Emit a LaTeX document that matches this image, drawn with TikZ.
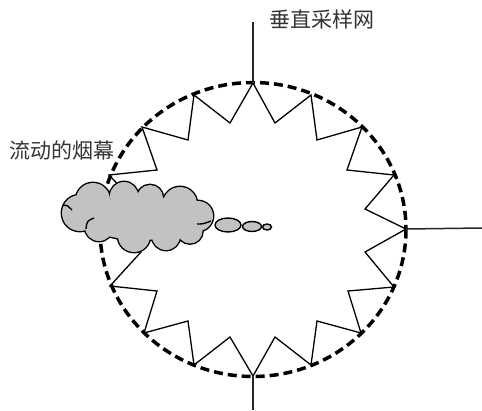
\documentclass[tikz,border=0pt]{standalone}
\usepackage{fontspec}
\newfontfamily\cjk{Noto Sans CJK SC}
\begin{document}
\begin{tikzpicture}[x=1pt,y=-1pt,
  rim/.style={line width=3.5pt,dash pattern=on 9pt off 5pt},
  zigzag/.style={line width=1.3pt,line join=miter},
  axis/.style={line width=1.5pt,black!85},
  puff/.style={fill=black!24},
  puffline/.style={line width=1.4pt},
  label/.style={font=\cjk\fontsize{21}{25}\selectfont,text=black!80,inner sep=0pt}]
\useasboundingbox (0,0) rectangle (482,410);

% sampling ring
\coordinate (C) at (253,229.5);
\draw[rim] (C) ellipse [x radius=153, y radius=147];

% outer (o) and inner (i) vertices of the sampling net
\coordinate (o0)  at (253,83);
\coordinate (i0)  at (275,123);
\coordinate (o1)  at (311,95);
\coordinate (i1)  at (317,140);
\coordinate (o2)  at (362,127);
\coordinate (i2)  at (347,170);
\coordinate (o3)  at (394,175);
\coordinate (i3)  at (365,209);
\coordinate (o4)  at (406,229);
\coordinate (i4)  at (365,252);
\coordinate (o5)  at (394,287);
\coordinate (i5)  at (348,291);
\coordinate (o6)  at (361,333);
\coordinate (i6)  at (317,321);
\coordinate (o7)  at (311,365);
\coordinate (i7)  at (275,337);
\coordinate (o8)  at (253,376);
\coordinate (i8)  at (230,337);
\coordinate (o9)  at (194,365);
\coordinate (i9)  at (188,321);
\coordinate (o10) at (144,333);
\coordinate (i10) at (157,291);
\coordinate (o11) at (110,286);
\coordinate (i11) at (141,252);
\coordinate (o12) at (100,229);
\coordinate (i12) at (141,209);
\coordinate (o13) at (109,175);
\coordinate (i13) at (157,170);
\coordinate (o14) at (142,127);
\coordinate (i14) at (188,140);
\coordinate (o15) at (194,95);
\coordinate (i15) at (230,123);

\draw[zigzag] (o0) -- (i0) -- (o1) -- (i1) -- (o2) -- (i2) -- (o3) -- (i3)
  -- (o4) -- (i4) -- (o5) -- (i5) -- (o6) -- (i6) -- (o7) -- (i7)
  -- (o8) -- (i8) -- (o9) -- (i9) -- (o10) -- (i10) -- (o11) -- (i11)
  -- (o12) -- (i12) -- (o13) -- (i13) -- (o14) -- (i14) -- (o15) -- (i15) -- cycle;

% sampling lines leaving the ring
\coordinate (topEnd) at (253,22);
\coordinate (rightEnd) at (482,228);
\coordinate (bottomEnd) at (253,410);
\draw[axis] (o0) -- (topEnd);
\draw[axis] (o4) -- (rightEnd);
\draw[axis] (o8) -- (bottomEnd);

% drifting smoke cloud: outlined bumps, then filled over to keep only the rim
\def\bumps{
  (80,213) circle [radius=18]
  (93,200) circle [radius=17]
  (124,196) circle [radius=14]
  (150,198) circle [radius=13]
  (180,204) circle [radius=17]
  (198,216) circle [radius=15]
  (190,231) circle [radius=12.5]
  (166,236) circle [radius=14]
  (134,236) circle [radius=16]
  (99,227) circle [radius=14]
  (140,218) ellipse [x radius=55, y radius=22]}
\draw[line width=2.8pt] \bumps;
\fill[puff] \bumps;
\draw[puffline] (63,205) .. controls (67,205) .. (72,210);
\draw[puffline] (94,218) .. controls (87,221) .. (86,229);
\draw[puffline] (197,224) .. controls (203,224) .. (211,221);

% trailing puffs
\draw[puffline,puff] (228,225) ellipse [x radius=13, y radius=7];
\draw[puffline,puff] (252,226.5) ellipse [x radius=9.5, y radius=5];
\draw[puffline,puff] (267,227) ellipse [x radius=4.5, y radius=3];

% labels
\node[label,anchor=west] (net) at (269,19) {垂直采样网};
\node[label,anchor=west] (smoke) at (9,150) {流动的烟幕};
\end{tikzpicture}
\end{document}
